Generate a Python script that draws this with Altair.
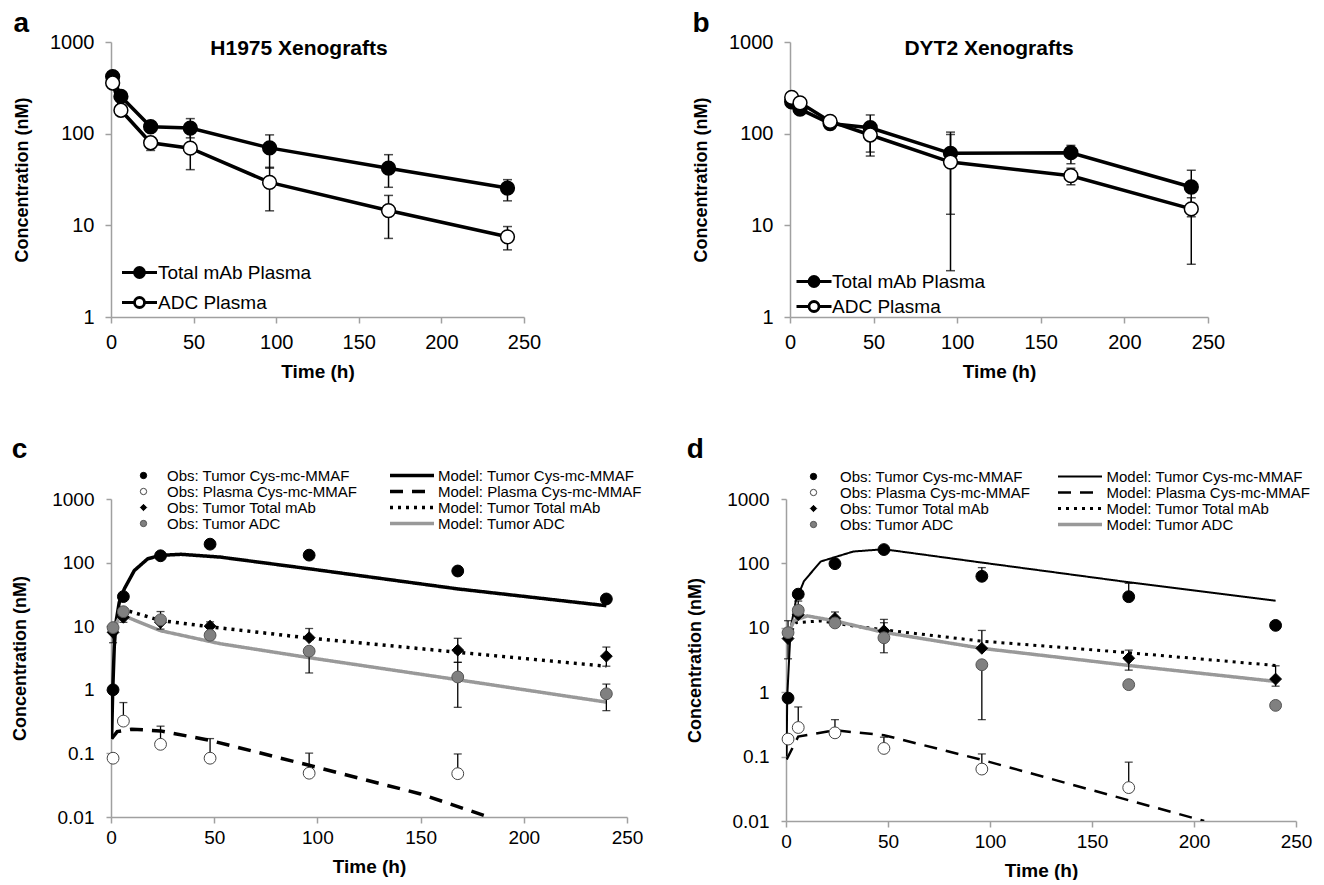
import altair as alt
import pandas as pd

FONT = "Liberation Sans, Arial, Helvetica, sans-serif"
GRAY = "#a0a0a0"

# ---------------- Panel a : H1975 ----------------
a_time = [1, 6, 24, 48, 96, 168, 240]
a_total = [420, 255, 119, 115, 70, 42, 25.5]
a_total_lo = [395, 240, 112, 90, 42, 26, 18.5]
a_total_hi = [445, 270, 126, 146, 97, 59, 31.5]
a_adc = [357, 180, 79.6, 69.5, 29.4, 14.5, 7.5]
a_adc_lo = [340, 170, 65.6, 40.5, 14.4, 7.2, 5.4]
a_adc_hi = [375, 190, 90, 110, 43, 21.2, 9.7]

# ---------------- Panel b : DYT2 ----------------
b_time = [1, 6, 24, 48, 96, 168, 240]
b_total = [223, 185, 129, 116, 61, 62, 26.2]
b_total_lo = [215, 178, 124, 63, 13.2, 47, 12.4]
b_total_hi = [231, 192, 134, 160, 104, 74.5, 39.9]
b_adc = [249, 217, 136, 96.7, 49, 34.8, 15.1]
b_adc_lo = [240, 210, 131, 57, 3.2, 27.7, 3.76]
b_adc_hi = [258, 224, 141, 110, 98, 42, 20]

TOP_SERIES = ["Total mAb Plasma", "ADC Plasma"]

# ---------------- Panel c : observed ----------------
c_time = [1, 6, 24, 48, 96, 168, 240]
c_tumor_mmaf = [1.0, 29.2, 128, 195, 131, 73.8, 26.8]
c_tumor_mmaf_lo = [None] * 7
c_tumor_mmaf_hi = [None] * 7
c_plasma_mmaf = [0.084, 0.322, 0.139, 0.084, 0.0488, 0.048, None]
c_plasma_mmaf_lo = [None] * 7
c_plasma_mmaf_hi = [None, 0.63, 0.268, 0.171, 0.101, 0.098, None]
c_total_mab = [8, 13.8, 11.5, 10, 6.6, 4.2, 3.38]
c_total_mab_lo = [5.5, 11.5, None, 7.7, None, 2.7, 2.35]
c_total_mab_hi = [None, None, None, 11.7, 9.2, 6.45, 4.7]
c_adc = [9.5, 16.9, 12.6, 7.2, 4.05, 1.59, 0.865]
c_adc_lo = [None, None, 9, None, 1.84, 0.53, 0.47]
c_adc_hi = [None, None, 17, None, None, 2.7, 1.23]

# ---------------- Panel c : model ----------------
c_m_tumor_t = [0.3, 0.8, 1.6, 2.4, 4, 6.5, 11.3, 17.8, 24, 34, 53, 96, 168, 240]
c_m_tumor = [0.17, 0.9, 4.9, 11.5, 23.7, 39, 75, 115, 130, 135, 122, 80, 38.6, 21]
c_m_plasma_t = [0.3, 3, 10, 24, 48, 96, 150, 183]
c_m_plasma = [0.17, 0.22, 0.24, 0.226, 0.16, 0.065, 0.023, 0.01]
c_m_total_t = [1, 5, 8, 24, 48, 96, 168, 240]
c_m_total = [8, 18, 17.5, 12.3, 9.8, 6.5, 3.9, 2.35]
c_m_adc_t = [1, 5, 10, 24, 53, 96, 168, 240]
c_m_adc = [9, 15.5, 13, 8.5, 5.3, 3.2, 1.44, 0.64]

# ---------------- Panel d : observed ----------------
d_time = [1, 6, 24, 48, 96, 168, 240]
d_tumor_mmaf = [0.81, 33.3, 99, 164, 63, 30.4, 10.9]
d_tumor_mmaf_lo = [None] * 7
d_tumor_mmaf_hi = [None, None, None, None, 86, 49, None]
d_plasma_mmaf = [0.187, 0.283, 0.234, 0.134, 0.064, 0.033, None]
d_plasma_mmaf_lo = [None] * 7
d_plasma_mmaf_hi = [None, 0.59, 0.375, 0.2, 0.11, 0.082, None]
d_total_mab = [6.8, 16, 14, 9, 4.8, 3.37, 1.6]
d_total_mab_lo = [3.3, None, 10.5, None, None, 2.2, 1.24]
d_total_mab_hi = [12.9, None, 17.6, 13.5, 9.1, 4.5, 2.57]
d_adc = [8.4, 18.7, 11.9, 7.0, 2.67, 1.31, 0.624]
d_adc_lo = [None, None, None, 4.1, 0.375, None, None]
d_adc_hi = [None, 26, None, 12, None, None, None]

# ---------------- Panel d : model ----------------
d_m_tumor_t = [0.3, 0.6, 2.3, 4.8, 8.8, 17, 33, 48, 96, 168, 240]
d_m_tumor = [0.1, 0.85, 10, 26, 53, 107, 153, 166, 103, 51, 26.3]
d_m_plasma_t = [0.3, 6, 24, 48, 96, 168, 205]
d_m_plasma = [0.09, 0.205, 0.256, 0.215, 0.089, 0.021, 0.01]
d_m_total_t = [1, 4.8, 17, 33, 48, 96, 168, 240]
d_m_total = [7, 12, 12.8, 10.7, 9.3, 6.2, 4.1, 2.6]
d_m_adc_t = [1, 4, 10.5, 24, 48, 96, 168, 240]
d_m_adc = [8, 13, 15.3, 12.8, 8.5, 4.8, 2.6, 1.47]

OBS = ["Obs: Tumor Cys-mc-MMAF", "Obs: Plasma Cys-mc-MMAF",
       "Obs: Tumor Total mAb", "Obs: Tumor ADC"]
MODELS = ["Model: Tumor Cys-mc-MMAF", "Model: Plasma Cys-mc-MMAF",
          "Model: Tumor Total mAb", "Model: Tumor ADC"]

X_TICKS = [0, 50, 100, 150, 200, 250]

INDEP = dict(color="independent", fill="independent", shape="independent",
             stroke="independent", strokeDash="independent",
             strokeWidth="independent")


def build_err(series_list):
    rules, caps = [], []
    for name, times, vals, los, his in series_list:
        for t, v, lo, hi in zip(times, vals, los, his):
            if v is None:
                continue
            if lo is None and hi is None:
                continue
            rules.append(dict(t=t, lo=lo if lo is not None else v,
                              hi=hi if hi is not None else v, s=name))
            if lo is not None:
                caps.append(dict(t=t, c=lo, s=name))
            if hi is not None:
                caps.append(dict(t=t, c=hi, s=name))
    return pd.DataFrame(rules), pd.DataFrame(caps)


def x_axis(label_size, label_pad, title_pad, tick):
    return alt.Axis(values=X_TICKS, grid=False, domainColor=GRAY, domainWidth=1.5,
                    tickColor=GRAY, tickWidth=1.5, tickSize=tick, labelFont=FONT,
                    labelFontSize=label_size, labelColor="black", labelPadding=label_pad,
                    labelFlush=False, titleFont=FONT, titleFontSize=19,
                    titleFontWeight="bold", titleColor="black", titlePadding=title_pad)


def y_axis(values, label_size, label_pad, title_pad, tick):
    return alt.Axis(values=values, format="~g", grid=False, domainColor=GRAY,
                    domainWidth=1.5, tickColor=GRAY, tickWidth=1.5, tickSize=tick,
                    labelFont=FONT, labelFontSize=label_size, labelColor="black",
                    labelPadding=label_pad, titleFont=FONT, titleFontSize=18,
                    titleFontWeight="bold", titleColor="black", titlePadding=title_pad)


LEG_PATH = "M-3.5,0L-1,0M1,0A1,1,0,1,1,-1,0A1,1,0,1,1,1,0M1,0L3.5,0"


def top_panel(letter, title, times, tot, tot_lo, tot_hi, adc, adc_lo, adc_hi,
              title_x, leg, row_pad, width, height):
    pts = []
    for t, v in zip(times, tot):
        pts.append(dict(t=t, v=v, s=TOP_SERIES[0]))
    for t, v in zip(times, adc):
        pts.append(dict(t=t, v=v, s=TOP_SERIES[1]))
    pts = pd.DataFrame(pts)
    rules, caps = build_err([(TOP_SERIES[0], times, tot, tot_lo, tot_hi),
                             (TOP_SERIES[1], times, adc, adc_lo, adc_hi)])
    xs = alt.Scale(domain=[0, 250], nice=False)
    ys = alt.Scale(type="log", domain=[1, 1000], nice=False)
    xa = x_axis(20, 9, 10, 6)
    ya = y_axis([1, 10, 100, 1000], 20, 11, 18, 6)
    X = lambda f: alt.X(f, scale=xs, axis=xa, title="Time (h)")
    Y = lambda f: alt.Y(f, scale=ys, axis=ya, title="Concentration (nM)")

    rule = alt.Chart(rules).mark_rule(color="black", strokeWidth=1.5).encode(
        x=X("t:Q"), y=Y("lo:Q"), y2="hi:Q")
    cap = alt.Chart(caps).mark_tick(color="black", orient="horizontal", size=9,
                                    thickness=1.5).encode(x=X("t:Q"), y=Y("c:Q"))
    line = alt.Chart(pts).mark_line(color="black", strokeWidth=3.5).encode(
        x=X("t:Q"), y=Y("v:Q"), detail="s:N")
    point = alt.Chart(pts).mark_point(shape="circle", size=190, filled=True,
                                      stroke="black", strokeWidth=1.5, opacity=1).encode(
        x=X("t:Q"), y=Y("v:Q"),
        fill=alt.Fill("s:N", scale=alt.Scale(domain=TOP_SERIES, range=["black", "white"]),
                      legend=alt.Legend(title=None, orient="none", legendX=leg[0],
                                        legendY=leg[1], symbolType=LEG_PATH,
                                        symbolSize=100, symbolStrokeColor="black",
                                        symbolStrokeWidth=2.8, symbolOpacity=1,
                                        labelFont=FONT, labelFontSize=19,
                                        labelColor="black", labelOffset=leg[2],
                                        rowPadding=row_pad, padding=0,
                                        labelLimit=400)))
    ttl = alt.Chart(pd.DataFrame({"label": [title]})).mark_text(
        font=FONT, fontSize=21, fontWeight="bold", color="black",
        align="center", baseline="middle").encode(
        text="label:N", x=alt.value(title_x), y=alt.value(7))
    return alt.layer(rule, cap, line, point, ttl).properties(
        width=width, height=height,
        title=alt.TitleParams(letter, anchor="start", frame="bounds", font=FONT,
                              fontSize=28, fontWeight="bold", color="black", offset=-6))


def bottom_panel(letter, times, obs, models, widths, obs_leg, mod_leg,
                 row_pad, width, height, title_off):
    pts = []
    for name, vals in zip(OBS, obs):
        for t, v in zip(times, vals[0]):
            if v is not None:
                pts.append(dict(t=t, v=v, o=name))
    pts = pd.DataFrame(pts)
    rules, caps = build_err([(name, times, vals[0], vals[1], vals[2])
                             for name, vals in zip(OBS, obs)])
    mrows = []
    for name, (mt, mv) in zip(MODELS, models):
        for t, v in zip(mt, mv):
            mrows.append(dict(t=t, v=v, m=name))
    mdf = pd.DataFrame(mrows)

    xs = alt.Scale(domain=[0, 250], nice=False)
    ys = alt.Scale(type="log", domain=[0.01, 1000], nice=False)
    xa = x_axis(19, 5, 10, 6)
    ya = y_axis([0.01, 0.1, 1, 10, 100, 1000], 19, 12, 22, 5)
    X = lambda f: alt.X(f, scale=xs, axis=xa, title="Time (h)")
    Y = lambda f: alt.Y(f, scale=ys, axis=ya, title="Concentration (nM)")

    mleg = alt.Legend(title=None, orient="none", legendX=mod_leg[0], legendY=mod_leg[1],
                      symbolType="M-4,0H4", symbolSize=121, labelFont=FONT,
                      labelFontSize=15, labelColor="black", labelOffset=mod_leg[2],
                      rowPadding=row_pad, padding=0, labelLimit=400)
    lines = alt.Chart(mdf).mark_line(clip=True).encode(
        x=X("t:Q"), y=Y("v:Q"),
        color=alt.Color("m:N", scale=alt.Scale(domain=MODELS,
                        range=["black", "black", "black", "#999999"]), legend=mleg),
        strokeDash=alt.StrokeDash("m:N", scale=alt.Scale(domain=MODELS,
                                  range=[[1, 0], [13, 9], [3, 5], [1, 0]]), legend=mleg),
        strokeWidth=alt.StrokeWidth("m:N", scale=alt.Scale(domain=MODELS, range=widths),
                                    legend=mleg))
    rule = alt.Chart(rules).mark_rule(color="black", strokeWidth=1.3).encode(
        x=X("t:Q"), y=Y("lo:Q"), y2="hi:Q")
    cap = alt.Chart(caps).mark_tick(color="black", orient="horizontal", size=8,
                                    thickness=1.3).encode(x=X("t:Q"), y=Y("c:Q"))
    oleg = alt.Legend(title=None, orient="none", legendX=obs_leg[0], legendY=obs_leg[1],
                      symbolSize=40, symbolStrokeWidth=1, labelFont=FONT,
                      labelFontSize=15, labelColor="black", labelOffset=obs_leg[2],
                      rowPadding=row_pad, padding=0, labelLimit=400, symbolOpacity=1)
    point = alt.Chart(pts).mark_point(filled=True, opacity=1, strokeWidth=1,
                                      size=140).encode(
        x=X("t:Q"), y=Y("v:Q"),
        shape=alt.Shape("o:N", scale=alt.Scale(domain=OBS,
                        range=["circle", "circle", "diamond", "circle"]), legend=oleg),
        fill=alt.Fill("o:N", scale=alt.Scale(domain=OBS,
                      range=["black", "white", "black", "#808080"]), legend=oleg),
        stroke=alt.Stroke("o:N", scale=alt.Scale(domain=OBS,
                          range=["black", "#444444", "black", "#555555"]), legend=oleg))
    return alt.layer(lines, rule, cap, point).properties(
        width=width, height=height,
        title=alt.TitleParams(letter, anchor="start", frame="bounds", font=FONT,
                              fontSize=28, fontWeight="bold", color="black",
                              offset=title_off))


pa = top_panel("a", "H1975 Xenografts", a_time, a_total, a_total_lo, a_total_hi,
               a_adc, a_adc_lo, a_adc_hi, 188, (19, 221, 9), 7, 413, 275)
pb = top_panel("b", "DYT2 Xenografts", b_time, b_total, b_total_lo, b_total_hi,
               b_adc, b_adc_lo, b_adc_hi, 199, (14.5, 230, 8.5), 2, 418, 275)

pc = bottom_panel(
    "c", c_time,
    [(c_tumor_mmaf, c_tumor_mmaf_lo, c_tumor_mmaf_hi),
     (c_plasma_mmaf, c_plasma_mmaf_lo, c_plasma_mmaf_hi),
     (c_total_mab, c_total_mab_lo, c_total_mab_hi),
     (c_adc, c_adc_lo, c_adc_hi)],
    [(c_m_tumor_t, c_m_tumor), (c_m_plasma_t, c_m_plasma),
     (c_m_total_t, c_m_total), (c_m_adc_t, c_m_adc)],
    [3.5, 3.5, 3, 3.5], (25, -31, 16), (293.5, -31, 18.5), 0, 516, 318, 4)
pd_ = bottom_panel(
    "d", d_time,
    [(d_tumor_mmaf, d_tumor_mmaf_lo, d_tumor_mmaf_hi),
     (d_plasma_mmaf, d_plasma_mmaf_lo, d_plasma_mmaf_hi),
     (d_total_mab, d_total_mab_lo, d_total_mab_hi),
     (d_adc, d_adc_lo, d_adc_hi)],
    [(d_m_tumor_t, d_m_tumor), (d_m_plasma_t, d_m_plasma),
     (d_m_total_t, d_m_total), (d_m_adc_t, d_m_adc)],
    [2, 3.5, 3, 2], (20, -30, 19), (286.5, -30, 19), 0, 510, 322, 5)

row1 = alt.hconcat(pa, pb, spacing=151).resolve_scale(**INDEP).resolve_legend(**INDEP)
row2 = alt.hconcat(pc, pd_, spacing=43).resolve_scale(**INDEP).resolve_legend(**INDEP)

chart = alt.vconcat(row1, row2, spacing=55).properties(
    padding={"left": 3, "top": 2, "right": 2, "bottom": 0}
).resolve_scale(**INDEP).resolve_legend(**INDEP).configure_view(stroke=None)

chart.save("out.html", embed_options={"renderer": "svg", "actions": False})
